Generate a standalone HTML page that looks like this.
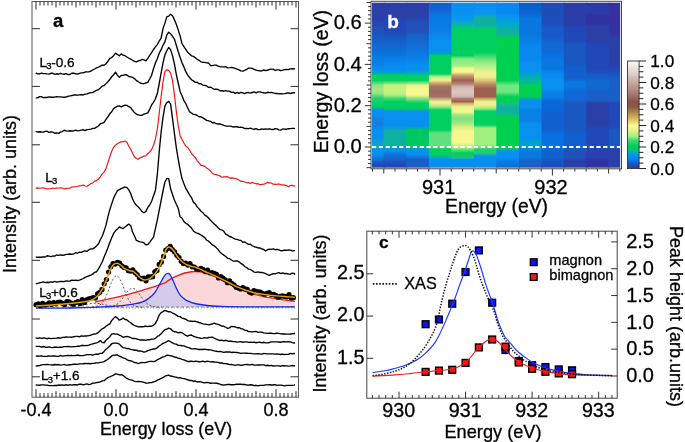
<!DOCTYPE html>
<html><head><meta charset="utf-8"><style>
html,body{margin:0;padding:0;background:#fff;}
svg{display:block;will-change:transform;}
text{font-family:"Liberation Sans", sans-serif;stroke:#000;stroke-width:0.3px;}
.w{stroke:#fff;}
</style></head><body>
<svg width="685" height="442" viewBox="0 0 685 442" font-family='"Liberation Sans", sans-serif'>
<rect width="685" height="442" fill="#fff"/>
<path d="M95,307.2 L95,302 L97.2,301.4 L111.5,298.4 L131.8,293.3 L152.2,287.2 L164.4,283.2 L168.2,280.6 L176.3,276.2 L184.5,273 L194.7,271.5 L205,272.8 L215.2,276.9 L225.4,282 L237.7,288.1 L249.9,293.2 L262.2,296.3 L274.5,298.4 L286.7,300.4 L294.9,301.4 L294.9,307.2 Z" fill="#fbd7d9" stroke="none"/>
<path d="M131.8,307.2 L131.8,304.3 L144,301.3 L152.2,295.6 L156.5,290 L160.3,283 L162.5,279 L164.4,275.8 L166.4,273.8 L168.2,273.4 L170.2,274.8 L172.3,278.9 L174.3,283.5 L176.3,288.1 L178.4,292.3 L180.4,295.3 L183.5,298.3 L186.6,300.4 L194.7,303.5 L207,305.5 L221.3,306.3 L250,306.8 L294.9,306.9 L294.9,307.2 Z" fill="#cfc8ec" stroke="none" fill-opacity="0.85"/>
<path d="M92,307.1 L93,307.05 L94,306.96 L95,306.84 L96,306.65 L97,306.4 L98,306.04 L99,305.56 L100,304.92 L101,304.1 L102,303.05 L103,301.77 L104,300.22 L105,298.4 L106,296.32 L107,294.01 L108,291.51 L109,288.89 L110,286.24 L111,283.67 L112,281.29 L113,279.21 L114,277.54 L115,276.38 L116,275.78 L117,275.78 L118,276.38 L119,277.54 L120,279.21 L121,281.29 L122,283.67 L123,286.24 L124,288.89 L125,291.51 L126,294.01 L127,296.32 L128,298.4 L129,300.22 L130,301.77 L131,303.05 L132,304.1 L133,304.92 L134,305.56 L135,306.04 L136,306.4 L137,306.65 L138,306.84 L139,306.96 L140,307.05 L141,307.1 L142,307.14" fill="none" stroke="#333" stroke-width="0.8" stroke-dasharray="2,2"/>
<path d="M105,307.15 L106,307.12 L107,307.08 L108,307.03 L109,306.95 L110,306.84 L111,306.69 L112,306.49 L113,306.23 L114,305.89 L115,305.46 L116,304.94 L117,304.29 L118,303.52 L119,302.62 L120,301.59 L121,300.44 L122,299.17 L123,297.81 L124,296.4 L125,294.96 L126,293.54 L127,292.2 L128,290.98 L129,289.93 L130,289.11 L131,288.53 L132,288.24 L133,288.24 L134,288.53 L135,289.11 L136,289.93 L137,290.98 L138,292.2 L139,293.54 L140,294.96 L141,296.4 L142,297.81 L143,299.17 L144,300.44 L145,301.59 L146,302.62 L147,303.52 L148,304.29 L149,304.94 L150,305.46 L151,305.89 L152,306.23 L153,306.49 L154,306.69 L155,306.84 L156,306.95 L157,307.03 L158,307.08 L159,307.12 L160,307.15 L161,307.17 L162,307.18" fill="none" stroke="#333" stroke-width="0.8" stroke-dasharray="2,2"/>
<path d="M70,307.02 L71,306.98 L72,306.92 L73,306.84 L74,306.76 L75,306.66 L76,306.54 L77,306.41 L78,306.26 L79,306.09 L80,305.9 L81,305.7 L82,305.48 L83,305.25 L84,305.02 L85,304.77 L86,304.53 L87,304.3 L88,304.07 L89,303.86 L90,303.67 L91,303.51 L92,303.38 L93,303.28 L94,303.22 L95,303.2 L96,303.22 L97,303.28 L98,303.38 L99,303.51 L100,303.67 L101,303.86 L102,304.07 L103,304.3 L104,304.53 L105,304.77 L106,305.02 L107,305.25 L108,305.48 L109,305.7 L110,305.9 L111,306.09 L112,306.26 L113,306.41 L114,306.54 L115,306.66 L116,306.76 L117,306.84 L118,306.92 L119,306.98 L120,307.02 L121,307.06 L122,307.1 L123,307.12 L124,307.14 L125,307.16" fill="none" stroke="#333" stroke-width="0.8" stroke-dasharray="2,2"/>
<line x1="36" y1="308" x2="295" y2="308" stroke="#5a5" stroke-width="0.8" stroke-dasharray="1,2"/>
<line x1="36" y1="307" x2="295" y2="307" stroke="#666" stroke-width="0.7" stroke-dasharray="3,2"/>
<path d="M95,302C95.37,301.9 94.45,302 97.2,301.4C99.95,300.8 105.73,299.75 111.5,298.4C117.27,297.05 125.02,295.17 131.8,293.3C138.58,291.43 146.77,288.88 152.2,287.2C157.63,285.52 161.73,284.3 164.4,283.2C167.07,282.1 166.22,281.77 168.2,280.6C170.18,279.43 173.58,277.47 176.3,276.2C179.02,274.93 181.43,273.78 184.5,273C187.57,272.22 191.28,271.53 194.7,271.5C198.12,271.47 201.58,271.9 205,272.8C208.42,273.7 211.8,275.37 215.2,276.9C218.6,278.43 221.65,280.13 225.4,282C229.15,283.87 233.62,286.23 237.7,288.1C241.78,289.97 245.82,291.83 249.9,293.2C253.98,294.57 258.1,295.43 262.2,296.3C266.3,297.17 270.42,297.72 274.5,298.4C278.58,299.08 283.3,299.9 286.7,300.4C290.1,300.9 293.53,301.23 294.9,301.4" fill="none" stroke="#f01818" stroke-width="1.3"/>
<path d="M36,308.2C41.78,308.17 58.12,308.3 70.7,308C83.28,307.7 101.32,307.02 111.5,306.4C121.68,305.78 126.38,305.15 131.8,304.3C137.22,303.45 140.6,302.75 144,301.3C147.4,299.85 150.12,297.48 152.2,295.6C154.28,293.72 155.15,292.1 156.5,290C157.85,287.9 159.3,284.83 160.3,283C161.3,281.17 161.82,280.2 162.5,279C163.18,277.8 163.75,276.67 164.4,275.8C165.05,274.93 165.77,274.2 166.4,273.8C167.03,273.4 167.57,273.23 168.2,273.4C168.83,273.57 169.52,273.88 170.2,274.8C170.88,275.72 171.62,277.45 172.3,278.9C172.98,280.35 173.63,281.97 174.3,283.5C174.97,285.03 175.62,286.63 176.3,288.1C176.98,289.57 177.72,291.1 178.4,292.3C179.08,293.5 179.55,294.3 180.4,295.3C181.25,296.3 182.47,297.45 183.5,298.3C184.53,299.15 184.73,299.53 186.6,300.4C188.47,301.27 191.3,302.65 194.7,303.5C198.1,304.35 202.57,305.03 207,305.5C211.43,305.97 214.13,306.08 221.3,306.3C228.47,306.52 237.73,306.7 250,306.8C262.27,306.9 287.42,306.88 294.9,306.9" fill="none" stroke="#1428f0" stroke-width="1.3"/>
<g fill="#000"><circle cx="36" cy="304.73" r="2.6"/><circle cx="38.2" cy="303.95" r="2.6"/><circle cx="40.4" cy="305.72" r="2.6"/><circle cx="42.6" cy="303.39" r="2.6"/><circle cx="44.8" cy="305.02" r="2.6"/><circle cx="47" cy="304.25" r="2.6"/><circle cx="49.2" cy="302.92" r="2.6"/><circle cx="51.4" cy="304.46" r="2.6"/><circle cx="53.6" cy="302.49" r="2.6"/><circle cx="55.8" cy="303.82" r="2.6"/><circle cx="58" cy="302.27" r="2.6"/><circle cx="60.2" cy="302.17" r="2.6"/><circle cx="62.4" cy="303.23" r="2.6"/><circle cx="64.6" cy="304.54" r="2.6"/><circle cx="66.8" cy="301.65" r="2.6"/><circle cx="69" cy="301.81" r="2.6"/><circle cx="71.2" cy="303.14" r="2.6"/><circle cx="73.4" cy="304.14" r="2.6"/><circle cx="75.6" cy="302.51" r="2.6"/><circle cx="77.8" cy="301.61" r="2.6"/><circle cx="80" cy="303.6" r="2.6"/><circle cx="82.2" cy="299.72" r="2.6"/><circle cx="84.4" cy="302.38" r="2.6"/><circle cx="86.6" cy="299.78" r="2.6"/><circle cx="88.8" cy="298.8" r="2.6"/><circle cx="91" cy="298.27" r="2.6"/><circle cx="93.2" cy="297.56" r="2.6"/><circle cx="95.4" cy="298.01" r="2.6"/><circle cx="97.6" cy="293.83" r="2.6"/><circle cx="99.8" cy="292.29" r="2.6"/><circle cx="102" cy="289.45" r="2.6"/><circle cx="104.2" cy="283.75" r="2.6"/><circle cx="106.4" cy="279.48" r="2.6"/><circle cx="108.6" cy="272.03" r="2.6"/><circle cx="110.8" cy="266.77" r="2.6"/><circle cx="113" cy="263.71" r="2.6"/><circle cx="115.2" cy="264.04" r="2.6"/><circle cx="117.4" cy="262.43" r="2.6"/><circle cx="119.6" cy="263.16" r="2.6"/><circle cx="121.8" cy="265.81" r="2.6"/><circle cx="124" cy="267.29" r="2.6"/><circle cx="126.2" cy="267.93" r="2.6"/><circle cx="128.4" cy="270.67" r="2.6"/><circle cx="130.6" cy="271.07" r="2.6"/><circle cx="132.8" cy="269.93" r="2.6"/><circle cx="135" cy="272.58" r="2.6"/><circle cx="137.2" cy="274.6" r="2.6"/><circle cx="139.4" cy="277.74" r="2.6"/><circle cx="141.6" cy="278.83" r="2.6"/><circle cx="143.8" cy="278.19" r="2.6"/><circle cx="146" cy="280.82" r="2.6"/><circle cx="148.2" cy="276.94" r="2.6"/><circle cx="150.4" cy="276.88" r="2.6"/><circle cx="152.6" cy="276.7" r="2.6"/><circle cx="154.8" cy="271.77" r="2.6"/><circle cx="157" cy="270.42" r="2.6"/><circle cx="159.2" cy="264.4" r="2.6"/><circle cx="161.4" cy="262.09" r="2.6"/><circle cx="163.6" cy="256.45" r="2.6"/><circle cx="165.8" cy="250.14" r="2.6"/><circle cx="168" cy="248.52" r="2.6"/><circle cx="170.2" cy="246.47" r="2.6"/><circle cx="172.4" cy="249.64" r="2.6"/><circle cx="174.6" cy="251.95" r="2.6"/><circle cx="176.8" cy="255.28" r="2.6"/><circle cx="179" cy="257.52" r="2.6"/><circle cx="181.2" cy="261.31" r="2.6"/><circle cx="183.4" cy="263.61" r="2.6"/><circle cx="185.6" cy="263.08" r="2.6"/><circle cx="187.8" cy="265.06" r="2.6"/><circle cx="190" cy="263.61" r="2.6"/><circle cx="192.2" cy="266.63" r="2.6"/><circle cx="194.4" cy="267.02" r="2.6"/><circle cx="196.6" cy="268.92" r="2.6"/><circle cx="198.8" cy="269.25" r="2.6"/><circle cx="201" cy="268.23" r="2.6"/><circle cx="203.2" cy="269.63" r="2.6"/><circle cx="205.4" cy="271.71" r="2.6"/><circle cx="207.6" cy="270.18" r="2.6"/><circle cx="209.8" cy="272.77" r="2.6"/><circle cx="212" cy="272.58" r="2.6"/><circle cx="214.2" cy="273.38" r="2.6"/><circle cx="216.4" cy="274.23" r="2.6"/><circle cx="218.6" cy="278" r="2.6"/><circle cx="220.8" cy="276.65" r="2.6"/><circle cx="223" cy="278.19" r="2.6"/><circle cx="225.2" cy="279.84" r="2.6"/><circle cx="227.4" cy="282.76" r="2.6"/><circle cx="229.6" cy="280.86" r="2.6"/><circle cx="231.8" cy="283.36" r="2.6"/><circle cx="234" cy="284.84" r="2.6"/><circle cx="236.2" cy="287.21" r="2.6"/><circle cx="238.4" cy="287.98" r="2.6"/><circle cx="240.6" cy="288.99" r="2.6"/><circle cx="242.8" cy="287.61" r="2.6"/><circle cx="245" cy="288.97" r="2.6"/><circle cx="247.2" cy="289.47" r="2.6"/><circle cx="249.4" cy="292.11" r="2.6"/><circle cx="251.6" cy="293.03" r="2.6"/><circle cx="253.8" cy="290.6" r="2.6"/><circle cx="256" cy="291.34" r="2.6"/><circle cx="258.2" cy="291.89" r="2.6"/><circle cx="260.4" cy="292.22" r="2.6"/><circle cx="262.6" cy="293.5" r="2.6"/><circle cx="264.8" cy="294.22" r="2.6"/><circle cx="267" cy="293.28" r="2.6"/><circle cx="269.2" cy="292.56" r="2.6"/><circle cx="271.4" cy="294.39" r="2.6"/><circle cx="273.6" cy="294.46" r="2.6"/><circle cx="275.8" cy="295.47" r="2.6"/><circle cx="278" cy="297.14" r="2.6"/><circle cx="280.2" cy="296.31" r="2.6"/><circle cx="282.4" cy="295.82" r="2.6"/><circle cx="284.6" cy="296.38" r="2.6"/><circle cx="286.8" cy="296.78" r="2.6"/><circle cx="289" cy="294.57" r="2.6"/><circle cx="291.2" cy="297.95" r="2.6"/><circle cx="293.4" cy="297.65" r="2.6"/></g>
<path d="M36.1,306C38.08,305.88 43.93,305.58 48,305.3C52.07,305.02 55.02,304.8 60.5,304.3C65.98,303.8 75.8,302.97 80.9,302.3C86,301.63 88.38,301.32 91.1,300.3C93.82,299.28 95.33,298.07 97.2,296.2C99.07,294.33 100.77,291.82 102.3,289.1C103.83,286.38 105.05,283.13 106.4,279.9C107.75,276.67 109.22,272.25 110.4,269.7C111.58,267.15 112.37,265.68 113.5,264.6C114.63,263.52 116.02,263.13 117.2,263.2C118.38,263.27 119.35,264.08 120.6,265C121.85,265.92 123.17,267.75 124.7,268.7C126.23,269.65 128.27,270.18 129.8,270.7C131.33,271.22 132.55,270.95 133.9,271.8C135.25,272.65 136.38,274.5 137.9,275.8C139.42,277.1 141.47,278.97 143,279.6C144.53,280.23 145.57,280.07 147.1,279.6C148.63,279.13 150.5,278.28 152.2,276.8C153.9,275.32 155.8,273.07 157.3,270.7C158.8,268.33 160.05,265.32 161.2,262.6C162.35,259.88 163.3,256.75 164.2,254.4C165.1,252.05 165.77,249.73 166.6,248.5C167.43,247.27 168.08,246.72 169.2,247C170.32,247.28 171.9,248.57 173.3,250.2C174.7,251.83 176.07,254.83 177.6,256.8C179.13,258.77 180.67,260.55 182.5,262C184.33,263.45 186.22,264.55 188.6,265.5C190.98,266.45 194.07,266.7 196.8,267.7C199.53,268.7 202.28,270.3 205,271.5C207.72,272.7 210.38,273.67 213.1,274.9C215.82,276.13 218.57,277.55 221.3,278.9C224.03,280.25 226.77,281.63 229.5,283C232.23,284.37 234.98,285.9 237.7,287.1C240.42,288.3 242.73,289.18 245.8,290.2C248.87,291.22 252.68,292.45 256.1,293.2C259.52,293.95 262.9,294.25 266.3,294.7C269.7,295.15 273.1,295.57 276.5,295.9C279.9,296.23 283.63,296.47 286.7,296.7C289.77,296.93 293.53,297.2 294.9,297.3" fill="none" stroke="#eea000" stroke-width="1.45"/>
<path d="M35.7,72.82 L37.6,73.82 L39.5,73.78 L41.4,73.18 L43.3,73.56 L45.2,73.57 L47.1,73.9 L49,74.14 L50.9,73.28 L52.8,73.22 L54.7,74.29 L56.6,73.78 L58.5,74.23 L60.4,73.27 L62.3,73.86 L64.2,74.24 L66.1,73.62 L68,74.57 L69.9,74.46 L71.8,73.25 L73.7,73.16 L75.6,73.75 L77.5,74.18 L79.4,73.37 L81.3,72.91 L83.2,72.85 L85.1,72.02 L87,71.95 L88.9,71.88 L90.8,71.15 L92.7,70.01 L94.6,68.99 L96.5,67.86 L98.4,67.15 L100.3,66.17 L102.2,65.06 L104.1,65.24 L106,63.8 L107.9,61.28 L109.8,58.33 L111.7,57.59 L113.6,55.71 L115.5,53.13 L117.4,54.49 L119.3,55.79 L121.2,53.87 L123.1,55.2 L125,55.72 L126.9,56.99 L128.8,58.25 L130.7,59.16 L132.6,60.28 L134.5,61.41 L136.4,61.84 L138.3,60.9 L140.2,60.51 L142.1,59.45 L144,59.97 L145.9,60.95 L147.8,58.3 L149.7,55.39 L151.6,52.65 L153.5,49.52 L155.4,46.89 L157.3,44.64 L159.2,41.02 L161.1,38.21 L163,28.61 L164.9,23.1 L166.8,16.9 L168.7,16.13 L170.6,14.16 L172.5,15.71 L174.4,19.66 L176.3,24.18 L178.2,29.88 L180.1,35.91 L182,43.64 L183.9,46.52 L185.8,49.44 L187.7,52.3 L189.6,54.04 L191.5,55.86 L193.4,56.36 L195.3,57.69 L197.2,59.23 L199.1,60.32 L201,61.86 L202.9,62.36 L204.8,62.43 L206.7,62.85 L208.6,63.04 L210.5,65.49 L212.4,65.57 L214.3,65.2 L216.2,65.07 L218.1,66.13 L220,66.72 L221.9,66.95 L223.8,66.94 L225.7,66.63 L227.6,67.85 L229.5,67.62 L231.4,67.3 L233.3,67.86 L235.2,68.43 L237.1,69.07 L239,69.87 L240.9,70.93 L242.8,71.12 L244.7,70.38 L246.6,69.46 L248.5,68.18 L250.4,68.08 L252.3,68.44 L254.2,69.4 L256.1,70.19 L258,70.54 L259.9,70.96 L261.8,70.88 L263.7,70.01 L265.6,70.64 L267.5,70.28 L269.4,69.38 L271.3,69.15 L273.2,69.15 L275.1,70.3 L277,69.83 L278.9,69.84 L280.8,70.7 L282.7,70.21 L284.6,69.57 L286.5,69.41 L288.4,69.61 L290.3,68.86 L292.2,68.72 L294.1,69.01 L295,68.54" fill="none" stroke="#000" stroke-width="1.35" stroke-linejoin="round"/>
<path d="M35.7,97.89 L37.6,97.86 L39.5,96.68 L41.4,96.69 L43.3,97.64 L45.2,97.49 L47.1,97.38 L49,96.89 L50.9,97.25 L52.8,97.23 L54.7,97.17 L56.6,96.6 L58.5,96.93 L60.4,96.82 L62.3,97.06 L64.2,97.22 L66.1,96.97 L68,96.26 L69.9,95.94 L71.8,95.52 L73.7,95.03 L75.6,94.83 L77.5,95.2 L79.4,94.82 L81.3,94.63 L83.2,94.98 L85.1,94.19 L87,93.92 L88.9,93.18 L90.8,92.59 L92.7,92.67 L94.6,91.37 L96.5,90.45 L98.4,89.71 L100.3,88.03 L102.2,86.12 L104.1,85.5 L106,83.63 L107.9,81.8 L109.8,79.5 L111.7,76.75 L113.6,74.73 L115.5,72.21 L117.4,75.22 L119.3,77.39 L121.2,75.51 L123.1,75.34 L125,74.72 L126.9,74.98 L128.8,76.51 L130.7,76.95 L132.6,77.45 L134.5,78.57 L136.4,80.66 L138.3,81.71 L140.2,83.01 L142.1,83.64 L144,83.6 L145.9,82.79 L147.8,82.3 L149.7,78.97 L151.6,75.2 L153.5,68.68 L155.4,63.01 L157.3,58.73 L159.2,53.28 L161.1,49.67 L163,45.32 L164.9,41.93 L166.8,34.95 L168.7,32.26 L170.6,33.82 L172.5,36.41 L174.4,39.03 L176.3,45.2 L178.2,51.49 L180.1,57.23 L182,62.74 L183.9,66.9 L185.8,71.69 L187.7,75.05 L189.6,77.51 L191.5,79.75 L193.4,80.89 L195.3,82.37 L197.2,82.25 L199.1,83.78 L201,83.7 L202.9,85.2 L204.8,85.35 L206.7,85.93 L208.6,87.42 L210.5,87.07 L212.4,88.26 L214.3,89.35 L216.2,89.12 L218.1,89.5 L220,90.79 L221.9,90.61 L223.8,91.24 L225.7,90.54 L227.6,91.17 L229.5,91.18 L231.4,92.35 L233.3,92.1 L235.2,93.44 L237.1,92.3 L239,93.28 L240.9,92.43 L242.8,92.8 L244.7,93.59 L246.6,92.64 L248.5,92.53 L250.4,93.04 L252.3,92.49 L254.2,91.9 L256.1,92.98 L258,91.91 L259.9,91.84 L261.8,92.33 L263.7,92.76 L265.6,93.01 L267.5,92.28 L269.4,92.66 L271.3,92.34 L273.2,92.97 L275.1,93.47 L277,93.52 L278.9,93.81 L280.8,93.71 L282.7,93.85 L284.6,93.62 L286.5,93.29 L288.4,92.94 L290.3,93.48 L292.2,93 L294.1,92.7 L295,93.13" fill="none" stroke="#000" stroke-width="1.35" stroke-linejoin="round"/>
<path d="M35.7,131.56 L37.6,131.96 L39.5,131.73 L41.4,132.04 L43.3,132.06 L45.2,131.34 L47.1,131.27 L49,132.44 L50.9,131.89 L52.8,132.06 L54.7,133.26 L56.6,132.78 L58.5,133.36 L60.4,132.11 L62.3,131.54 L64.2,130.25 L66.1,130.88 L68,131.18 L69.9,130.73 L71.8,131.01 L73.7,130.92 L75.6,130.12 L77.5,130.93 L79.4,130.63 L81.3,130.17 L83.2,129.74 L85.1,130.56 L87,129.55 L88.9,129.37 L90.8,129.07 L92.7,128.44 L94.6,128.3 L96.5,127.21 L98.4,126.03 L100.3,123.71 L102.2,123.08 L104.1,122.39 L106,119.36 L107.9,116.77 L109.8,113.77 L111.7,111.73 L113.6,108.65 L115.5,107.36 L117.4,106.18 L119.3,105.97 L121.2,106.8 L123.1,105.89 L125,105.22 L126.9,105.36 L128.8,106.73 L130.7,107.61 L132.6,110.3 L134.5,112.57 L136.4,114.15 L138.3,114.89 L140.2,115.38 L142.1,115.29 L144,114.02 L145.9,113.56 L147.8,112.9 L149.7,109.33 L151.6,104.92 L153.5,102.38 L155.4,98.77 L157.3,93.54 L159.2,83.75 L161.1,73.15 L163,62.84 L164.9,54.97 L166.8,50.63 L168.7,47.51 L170.6,49.64 L172.5,55.64 L174.4,63.89 L176.3,74.3 L178.2,83.01 L180.1,91.42 L182,95.83 L183.9,100.55 L185.8,103.55 L187.7,107.9 L189.6,111.82 L191.5,113.03 L193.4,114.34 L195.3,114.59 L197.2,115.48 L199.1,116.78 L201,116.75 L202.9,117.93 L204.8,119.18 L206.7,120.41 L208.6,120.79 L210.5,121.31 L212.4,122.79 L214.3,122.46 L216.2,123.7 L218.1,124.02 L220,123.96 L221.9,124.68 L223.8,125.37 L225.7,125.96 L227.6,126.06 L229.5,126.18 L231.4,126.43 L233.3,127.02 L235.2,126.62 L237.1,126.75 L239,127.43 L240.9,127.11 L242.8,127.49 L244.7,128.68 L246.6,128.38 L248.5,128.66 L250.4,128.15 L252.3,128.86 L254.2,129.26 L256.1,128.71 L258,129.67 L259.9,129.69 L261.8,128.8 L263.7,129.39 L265.6,129.03 L267.5,129.16 L269.4,128.8 L271.3,129.38 L273.2,129.54 L275.1,128.72 L277,128.89 L278.9,129.81 L280.8,130.09 L282.7,129.03 L284.6,129.17 L286.5,129.21 L288.4,128.73 L290.3,128.65 L292.2,128.45 L294.1,128.39 L295,128.62" fill="none" stroke="#000" stroke-width="1.35" stroke-linejoin="round"/>
<path d="M35.7,188.06 L37.6,187.88 L39.5,188.26 L41.4,187.95 L43.3,187.84 L45.2,188.27 L47.1,188.94 L49,188.79 L50.9,188.74 L52.8,188.04 L54.7,188.45 L56.6,188.11 L58.5,187.97 L60.4,187.89 L62.3,188.03 L64.2,188.92 L66.1,188.56 L68,188.3 L69.9,188.07 L71.8,187.05 L73.7,186.85 L75.6,186.71 L77.5,186.29 L79.4,185.9 L81.3,185.58 L83.2,184.95 L85.1,186.02 L87,186.22 L88.9,185.04 L90.8,183.65 L92.7,183.07 L94.6,181.18 L96.5,180.68 L98.4,179 L100.3,176.88 L102.2,173.93 L104.1,172.09 L106,168.63 L107.9,162.72 L109.8,156.75 L111.7,151.22 L113.6,147.36 L115.5,145.09 L117.4,143.65 L119.3,142.54 L121.2,141.92 L123.1,141.68 L125,141.05 L126.9,142.34 L128.8,146.19 L130.7,149.31 L132.6,153.35 L134.5,157.06 L136.4,158.45 L138.3,159.26 L140.2,157.6 L142.1,157.14 L144,156.1 L145.9,155.89 L147.8,153.71 L149.7,151.91 L151.6,149.62 L153.5,145.27 L155.4,139.23 L157.3,129.26 L159.2,113.56 L161.1,96.83 L163,81.85 L164.9,71.65 L166.8,69.64 L168.7,70.5 L170.6,73.05 L172.5,80.32 L174.4,94.64 L176.3,111.19 L178.2,125.7 L180.1,135.71 L182,139.55 L183.9,143.02 L185.8,146.29 L187.7,147.47 L189.6,150.22 L191.5,153.47 L193.4,155.58 L195.3,157.6 L197.2,160.81 L199.1,162.96 L201,165.36 L202.9,165.6 L204.8,166.4 L206.7,168.11 L208.6,169.15 L210.5,171.01 L212.4,173.41 L214.3,174.23 L216.2,174.6 L218.1,175.2 L220,175.91 L221.9,177.27 L223.8,176.92 L225.7,176.83 L227.6,176.58 L229.5,178.08 L231.4,177.9 L233.3,178.18 L235.2,178.54 L237.1,179.16 L239,180.03 L240.9,181.41 L242.8,181.44 L244.7,182.01 L246.6,182.79 L248.5,182.47 L250.4,183.45 L252.3,182.36 L254.2,183.19 L256.1,183.81 L258,183.64 L259.9,184.69 L261.8,184.33 L263.7,184.11 L265.6,183.58 L267.5,182.35 L269.4,182.94 L271.3,183.01 L273.2,184.15 L275.1,184.38 L277,184.25 L278.9,183.94 L280.8,184.57 L282.7,184.89 L284.6,185.18 L286.5,185.55 L288.4,186.66 L290.3,185.52 L292.2,185.2 L294.1,186.15 L295,185.58" fill="none" stroke="#f01010" stroke-width="1.15" stroke-linejoin="round"/>
<path d="M35.7,257.16 L37.6,257.21 L39.5,257.17 L41.4,257.25 L43.3,256.88 L45.2,257.01 L47.1,255.74 L49,256.17 L50.9,256.6 L52.8,256.03 L54.7,256.17 L56.6,254.96 L58.5,255.3 L60.4,254.93 L62.3,255.23 L64.2,255.19 L66.1,254.37 L68,254.28 L69.9,253.98 L71.8,254.43 L73.7,253.86 L75.6,252.71 L77.5,253.22 L79.4,252.05 L81.3,252.35 L83.2,251.4 L85.1,250.79 L87,251.3 L88.9,249.82 L90.8,248.95 L92.7,248.84 L94.6,247.65 L96.5,245.89 L98.4,243.91 L100.3,239.77 L102.2,236.22 L104.1,231.09 L106,225.14 L107.9,216.87 L109.8,209.68 L111.7,203.91 L113.6,198.1 L115.5,194.32 L117.4,190.71 L119.3,189.71 L121.2,188.64 L123.1,187.77 L125,186.93 L126.9,187.59 L128.8,189.9 L130.7,193.47 L132.6,198.95 L134.5,202.8 L136.4,205.27 L138.3,206.96 L140.2,209.08 L142.1,211.6 L144,212.78 L145.9,211.34 L147.8,207.45 L149.7,205.02 L151.6,201.35 L153.5,195.81 L155.4,190.5 L157.3,174.8 L159.2,152 L161.1,132.26 L163,117.34 L164.9,106.17 L166.8,102.55 L168.7,101.44 L170.6,103.93 L172.5,118.44 L174.4,133.27 L176.3,147.7 L178.2,159.03 L180.1,169.54 L182,178.55 L183.9,183.62 L185.8,188.43 L187.7,191.56 L189.6,194.87 L191.5,197.6 L193.4,202.15 L195.3,203.83 L197.2,206.88 L199.1,208.87 L201,211.22 L202.9,212.68 L204.8,215.05 L206.7,216.17 L208.6,218.05 L210.5,220.26 L212.4,222.29 L214.3,224.08 L216.2,225.61 L218.1,227.75 L220,229.58 L221.9,229.93 L223.8,231.32 L225.7,234.13 L227.6,235.13 L229.5,236.52 L231.4,237.01 L233.3,238.18 L235.2,239.19 L237.1,239.42 L239,240.1 L240.9,240.38 L242.8,242.25 L244.7,241.86 L246.6,243.22 L248.5,244.42 L250.4,244.25 L252.3,245.75 L254.2,246.75 L256.1,247.05 L258,247.97 L259.9,247.83 L261.8,249.01 L263.7,249.39 L265.6,251.05 L267.5,249.69 L269.4,249.25 L271.3,249.32 L273.2,248.96 L275.1,249.61 L277,249.42 L278.9,249.95 L280.8,250.75 L282.7,250.52 L284.6,250.21 L286.5,250.29 L288.4,249.88 L290.3,250.11 L292.2,250.84 L294.1,250.73 L295,250.27" fill="none" stroke="#000" stroke-width="1.35" stroke-linejoin="round"/>
<path d="M35.7,283.58 L37.6,283.47 L39.5,282.87 L41.4,282.43 L43.3,281.94 L45.2,282.65 L47.1,282.24 L49,282.48 L50.9,281.85 L52.8,282.24 L54.7,281.47 L56.6,282.03 L58.5,281.86 L60.4,281.38 L62.3,281.48 L64.2,281.6 L66.1,280.9 L68,281.07 L69.9,281.09 L71.8,280.07 L73.7,280.46 L75.6,280.07 L77.5,280.49 L79.4,280.04 L81.3,279.32 L83.2,278.5 L85.1,277.37 L87,276.59 L88.9,275.82 L90.8,275.06 L92.7,274.2 L94.6,272.33 L96.5,271.76 L98.4,268.83 L100.3,265.51 L102.2,262 L104.1,256.93 L106,252.53 L107.9,247.73 L109.8,242.47 L111.7,237.83 L113.6,233.43 L115.5,230.83 L117.4,229.08 L119.3,226.96 L121.2,227.85 L123.1,228.61 L125,226.95 L126.9,225.42 L128.8,224.08 L130.7,225.67 L132.6,232.03 L134.5,235.97 L136.4,240.47 L138.3,241.24 L140.2,241.81 L142.1,242.18 L144,242.93 L145.9,244.92 L147.8,244.48 L149.7,242.36 L151.6,239.57 L153.5,237.16 L155.4,228.57 L157.3,220.08 L159.2,210.47 L161.1,200.67 L163,191 L164.9,182.19 L166.8,178.52 L168.7,178.69 L170.6,188.81 L172.5,194.47 L174.4,200.03 L176.3,204.27 L178.2,208.21 L180.1,216.83 L182,218.22 L183.9,221.53 L185.8,223.22 L187.7,224.32 L189.6,226.21 L191.5,228.04 L193.4,230.95 L195.3,232.37 L197.2,233.25 L199.1,233.81 L201,235.02 L202.9,236.35 L204.8,237.65 L206.7,240.23 L208.6,241.18 L210.5,243.03 L212.4,244.98 L214.3,245.88 L216.2,247.61 L218.1,249.66 L220,252.19 L221.9,253.81 L223.8,255.12 L225.7,256.54 L227.6,258.33 L229.5,258.63 L231.4,260 L233.3,261.05 L235.2,261.01 L237.1,260.87 L239,261.79 L240.9,263.41 L242.8,264.59 L244.7,266.52 L246.6,267.54 L248.5,269.13 L250.4,269.44 L252.3,270.82 L254.2,272.16 L256.1,272.39 L258,271.93 L259.9,272.48 L261.8,272.37 L263.7,272.8 L265.6,273.53 L267.5,274.54 L269.4,275.34 L271.3,274.49 L273.2,273.74 L275.1,273.95 L277,273.06 L278.9,272.65 L280.8,273.63 L282.7,272.85 L284.6,273.72 L286.5,273.34 L288.4,274.18 L290.3,274.15 L292.2,273.21 L294.1,273.46 L295,274.48" fill="none" stroke="#000" stroke-width="1.35" stroke-linejoin="round"/>
<path d="M35.7,337.78 L37.6,338.43 L39.5,337.81 L41.4,338.33 L43.3,337.89 L45.2,338.08 L47.1,338.74 L49,338.16 L50.9,338.56 L52.8,338.45 L54.7,338.3 L56.6,338.18 L58.5,337.78 L60.4,338.14 L62.3,337.4 L64.2,337.36 L66.1,337.04 L68,337.09 L69.9,337.05 L71.8,337.29 L73.7,336.72 L75.6,336.36 L77.5,336.34 L79.4,336.78 L81.3,335.9 L83.2,336.21 L85.1,335.87 L87,335.96 L88.9,335.54 L90.8,335.22 L92.7,334.46 L94.6,333.97 L96.5,333.57 L98.4,332.45 L100.3,330.5 L102.2,328.85 L104.1,327.96 L106,326.31 L107.9,324.94 L109.8,323.84 L111.7,320.64 L113.6,318.38 L115.5,316.6 L117.4,318.13 L119.3,320.18 L121.2,319.48 L123.1,317.97 L125,319.48 L126.9,319.96 L128.8,321.44 L130.7,322.77 L132.6,324.37 L134.5,325.52 L136.4,326.17 L138.3,326.86 L140.2,326.62 L142.1,326.72 L144,326.5 L145.9,326.05 L147.8,326.61 L149.7,326.19 L151.6,326.24 L153.5,325.28 L155.4,323.4 L157.3,319.83 L159.2,315.06 L161.1,312.62 L163,311.6 L164.9,310.41 L166.8,311.01 L168.7,311.79 L170.6,311.95 L172.5,313.02 L174.4,313.78 L176.3,315.13 L178.2,316.33 L180.1,316.66 L182,318.06 L183.9,318.64 L185.8,319.26 L187.7,320.64 L189.6,321.09 L191.5,321.24 L193.4,321.45 L195.3,321.29 L197.2,321.83 L199.1,322.49 L201,323.1 L202.9,323.8 L204.8,324.05 L206.7,324.38 L208.6,324.87 L210.5,324.41 L212.4,324 L214.3,323.14 L216.2,323.9 L218.1,324.35 L220,325.21 L221.9,326.13 L223.8,326.28 L225.7,327.25 L227.6,328.34 L229.5,327.85 L231.4,326.32 L233.3,326.6 L235.2,326.78 L237.1,327.75 L239,327.47 L240.9,328.65 L242.8,328.96 L244.7,330.31 L246.6,330.44 L248.5,331.63 L250.4,331.57 L252.3,331.86 L254.2,331.63 L256.1,331.41 L258,332.3 L259.9,332.18 L261.8,332.2 L263.7,332.92 L265.6,333.13 L267.5,333.41 L269.4,333.22 L271.3,333.2 L273.2,333.56 L275.1,333.46 L277,333.2 L278.9,333.45 L280.8,333.82 L282.7,333.98 L284.6,333.95 L286.5,334.06 L288.4,334.2 L290.3,334.04 L292.2,333.71 L294.1,333.6 L295,333.19" fill="none" stroke="#000" stroke-width="1.35" stroke-linejoin="round"/>
<path d="M35.7,346.37 L37.6,346.42 L39.5,346.36 L41.4,347.06 L43.3,346.5 L45.2,347.02 L47.1,347.46 L49,346.93 L50.9,347.43 L52.8,347.58 L54.7,347.03 L56.6,347.21 L58.5,347.38 L60.4,347.08 L62.3,347.21 L64.2,346.66 L66.1,346.63 L68,346.44 L69.9,346.66 L71.8,346.9 L73.7,346.55 L75.6,346.58 L77.5,346.1 L79.4,346.23 L81.3,345.54 L83.2,345.53 L85.1,345.67 L87,345.54 L88.9,345.11 L90.8,344.31 L92.7,343.93 L94.6,343.35 L96.5,342.88 L98.4,342.1 L100.3,340.59 L102.2,342.43 L104.1,342.72 L106,340.2 L107.9,338.6 L109.8,336.6 L111.7,334.12 L113.6,333.56 L115.5,334.17 L117.4,334.08 L119.3,335.14 L121.2,335.96 L123.1,337.25 L125,336.81 L126.9,336.33 L128.8,336.82 L130.7,337.52 L132.6,338.53 L134.5,338.42 L136.4,338.78 L138.3,339.42 L140.2,340.02 L142.1,339.81 L144,339.99 L145.9,340.38 L147.8,339.69 L149.7,339.74 L151.6,339.08 L153.5,339.09 L155.4,338.4 L157.3,336.41 L159.2,335.54 L161.1,333.86 L163,331.56 L164.9,329.72 L166.8,329.05 L168.7,328.05 L170.6,328.83 L172.5,330.79 L174.4,331.75 L176.3,331.94 L178.2,332.89 L180.1,332.43 L182,332.69 L183.9,334.07 L185.8,335.44 L187.7,336.22 L189.6,335.21 L191.5,335.02 L193.4,336.24 L195.3,336.83 L197.2,337.53 L199.1,337.92 L201,338.39 L202.9,338.06 L204.8,337.61 L206.7,338.08 L208.6,337.52 L210.5,337.43 L212.4,337.07 L214.3,338.26 L216.2,339.16 L218.1,339.97 L220,340.49 L221.9,340.15 L223.8,340.78 L225.7,340.26 L227.6,340.99 L229.5,341.26 L231.4,341.26 L233.3,341.69 L235.2,341.57 L237.1,342.09 L239,341.84 L240.9,341.68 L242.8,342.27 L244.7,341.82 L246.6,341.87 L248.5,342.36 L250.4,342.07 L252.3,342.41 L254.2,342.11 L256.1,342.75 L258,342.31 L259.9,342.14 L261.8,342.88 L263.7,342.24 L265.6,342.86 L267.5,342.89 L269.4,342.51 L271.3,341.93 L273.2,341.87 L275.1,341.88 L277,341.93 L278.9,342.01 L280.8,342.27 L282.7,341.78 L284.6,341.61 L286.5,341.95 L288.4,341.64 L290.3,341.91 L292.2,342.59 L294.1,343.01 L295,342.65" fill="none" stroke="#000" stroke-width="1.35" stroke-linejoin="round"/>
<path d="M35.7,356.16 L37.6,356.04 L39.5,356.16 L41.4,355.86 L43.3,356.35 L45.2,356.36 L47.1,356.22 L49,355.83 L50.9,356.12 L52.8,355.96 L54.7,355.83 L56.6,356.34 L58.5,356.31 L60.4,355.49 L62.3,356.09 L64.2,355.82 L66.1,355.59 L68,355.45 L69.9,355.7 L71.8,355.47 L73.7,355.6 L75.6,355.52 L77.5,355.03 L79.4,355.48 L81.3,355.58 L83.2,355.51 L85.1,355.16 L87,354.64 L88.9,354.55 L90.8,354.59 L92.7,355.17 L94.6,354.41 L96.5,354.13 L98.4,354.22 L100.3,353.42 L102.2,353.27 L104.1,351.41 L106,349.17 L107.9,347.67 L109.8,345.98 L111.7,343.73 L113.6,343.17 L115.5,343.1 L117.4,343.25 L119.3,344.07 L121.2,346.15 L123.1,347.68 L125,347.89 L126.9,348.58 L128.8,348.51 L130.7,349.35 L132.6,349.7 L134.5,350.25 L136.4,350.22 L138.3,351.12 L140.2,350.95 L142.1,351.38 L144,352.21 L145.9,351.71 L147.8,350.68 L149.7,350.05 L151.6,349.41 L153.5,349.03 L155.4,348.9 L157.3,347.62 L159.2,346.05 L161.1,344.79 L163,343.27 L164.9,342.6 L166.8,341.67 L168.7,340.58 L170.6,341.71 L172.5,342.99 L174.4,343.8 L176.3,344.19 L178.2,345.42 L180.1,345.45 L182,345.78 L183.9,345.92 L185.8,346.72 L187.7,347.45 L189.6,347.92 L191.5,348.9 L193.4,348.89 L195.3,348.69 L197.2,349.07 L199.1,349.52 L201,349.34 L202.9,349.52 L204.8,349.19 L206.7,349.64 L208.6,349.72 L210.5,349.93 L212.4,350.34 L214.3,350.87 L216.2,351.23 L218.1,351.59 L220,351.46 L221.9,351.8 L223.8,352.35 L225.7,352.04 L227.6,351.86 L229.5,351.96 L231.4,352.51 L233.3,352.22 L235.2,352.36 L237.1,352.47 L239,352.84 L240.9,353.37 L242.8,353.06 L244.7,353.14 L246.6,353.21 L248.5,353.35 L250.4,353.39 L252.3,353.69 L254.2,353.92 L256.1,353.84 L258,353.7 L259.9,353.92 L261.8,354.13 L263.7,353.52 L265.6,353.59 L267.5,353.9 L269.4,353.95 L271.3,353.91 L273.2,353.9 L275.1,354.16 L277,353.95 L278.9,354.29 L280.8,354.48 L282.7,354.13 L284.6,354.54 L286.5,354.41 L288.4,354.32 L290.3,353.41 L292.2,353.87 L294.1,353.52 L295,353.57" fill="none" stroke="#000" stroke-width="1.35" stroke-linejoin="round"/>
<path d="M35.7,366.06 L37.6,365.76 L39.5,365.67 L41.4,364.92 L43.3,364.57 L45.2,364.62 L47.1,364.35 L49,364.67 L50.9,364.82 L52.8,365.01 L54.7,364.5 L56.6,364.73 L58.5,364.54 L60.4,365.07 L62.3,364.94 L64.2,364.38 L66.1,365.09 L68,365.03 L69.9,364.74 L71.8,364.67 L73.7,364.26 L75.6,364.09 L77.5,364.37 L79.4,363.87 L81.3,363.85 L83.2,363.76 L85.1,363.47 L87,363.69 L88.9,363.54 L90.8,363.74 L92.7,363.36 L94.6,363.26 L96.5,362.91 L98.4,362.81 L100.3,362.42 L102.2,362.05 L104.1,361.58 L106,360.45 L107.9,359.19 L109.8,357.68 L111.7,355.93 L113.6,355.09 L115.5,354.97 L117.4,354.8 L119.3,356.25 L121.2,356.77 L123.1,357.8 L125,358.31 L126.9,359.72 L128.8,360.58 L130.7,360.78 L132.6,361.48 L134.5,362.57 L136.4,362.75 L138.3,363.68 L140.2,362.95 L142.1,362.43 L144,362.61 L145.9,362.46 L147.8,361.82 L149.7,361.44 L151.6,361.41 L153.5,361.68 L155.4,361.21 L157.3,359.74 L159.2,358.9 L161.1,357.83 L163,356.87 L164.9,356.56 L166.8,355.17 L168.7,355.33 L170.6,355.79 L172.5,356.12 L174.4,357.14 L176.3,357.28 L178.2,358.3 L180.1,358.49 L182,359.38 L183.9,359.86 L185.8,360.54 L187.7,361.51 L189.6,361.46 L191.5,361.15 L193.4,361.69 L195.3,361.24 L197.2,361.42 L199.1,361.78 L201,361.61 L202.9,361.18 L204.8,361.89 L206.7,361.27 L208.6,361.31 L210.5,361.86 L212.4,361.76 L214.3,362 L216.2,362.08 L218.1,362.35 L220,363.01 L221.9,363 L223.8,363.55 L225.7,363.63 L227.6,363.96 L229.5,364.63 L231.4,364.52 L233.3,364.85 L235.2,365.35 L237.1,364.9 L239,364.78 L240.9,365.28 L242.8,365.11 L244.7,364.56 L246.6,364.42 L248.5,364.76 L250.4,364.88 L252.3,364.39 L254.2,365.09 L256.1,365.13 L258,365.01 L259.9,364.96 L261.8,364.81 L263.7,364.85 L265.6,365.7 L267.5,365.23 L269.4,365.71 L271.3,365.46 L273.2,366.02 L275.1,365.95 L277,365.81 L278.9,365.82 L280.8,366.23 L282.7,365.64 L284.6,365.71 L286.5,365.92 L288.4,366.09 L290.3,365.84 L292.2,365.51 L294.1,365.96 L295,365.36" fill="none" stroke="#000" stroke-width="1.35" stroke-linejoin="round"/>
<path d="M35.7,384.98 L37.6,385.18 L39.5,385.25 L41.4,384.88 L43.3,384.83 L45.2,385.18 L47.1,385.16 L49,385.64 L50.9,385.6 L52.8,385.57 L54.7,385.48 L56.6,385.51 L58.5,385.03 L60.4,385.21 L62.3,384.93 L64.2,385.47 L66.1,384.73 L68,385.28 L69.9,384.62 L71.8,385.05 L73.7,384.72 L75.6,384.71 L77.5,384.97 L79.4,384.23 L81.3,384.18 L83.2,384.78 L85.1,384.37 L87,383.95 L88.9,384.57 L90.8,384.21 L92.7,383.2 L94.6,383.12 L96.5,382.55 L98.4,382.28 L100.3,381.89 L102.2,380.88 L104.1,380.66 L106,378.96 L107.9,377.62 L109.8,376.96 L111.7,376.01 L113.6,375.06 L115.5,373.92 L117.4,374.1 L119.3,374.86 L121.2,374.62 L123.1,375.41 L125,377.03 L126.9,378.48 L128.8,379.38 L130.7,379.8 L132.6,380.48 L134.5,381.41 L136.4,381.65 L138.3,381.34 L140.2,381.58 L142.1,381.87 L144,382.38 L145.9,383.01 L147.8,383.16 L149.7,382.58 L151.6,382.68 L153.5,381.83 L155.4,381.32 L157.3,380.13 L159.2,379.34 L161.1,378.36 L163,377.71 L164.9,376.21 L166.8,375.6 L168.7,375.16 L170.6,376.19 L172.5,376.27 L174.4,376.9 L176.3,377.26 L178.2,377.8 L180.1,377.64 L182,378.41 L183.9,378.66 L185.8,379.17 L187.7,379.74 L189.6,380.5 L191.5,380.49 L193.4,381.25 L195.3,381 L197.2,381.9 L199.1,381.7 L201,381.82 L202.9,382.52 L204.8,382.9 L206.7,382.34 L208.6,382.71 L210.5,383.26 L212.4,383.08 L214.3,383.19 L216.2,383.25 L218.1,383.53 L220,384.24 L221.9,384.79 L223.8,385.05 L225.7,384.77 L227.6,384.32 L229.5,384.48 L231.4,384.78 L233.3,384.75 L235.2,384.52 L237.1,384.12 L239,384.29 L240.9,384.2 L242.8,384.47 L244.7,384.34 L246.6,385.04 L248.5,385.15 L250.4,384.72 L252.3,384.98 L254.2,385.6 L256.1,385.28 L258,385.79 L259.9,385.37 L261.8,385.43 L263.7,385.35 L265.6,384.87 L267.5,384.85 L269.4,384.74 L271.3,385 L273.2,385 L275.1,384.67 L277,385.39 L278.9,385.14 L280.8,385.11 L282.7,385.39 L284.6,385.83 L286.5,385.37 L288.4,385.31 L290.3,385.43 L292.2,385.34 L294.1,385.06 L295,384.73" fill="none" stroke="#000" stroke-width="1.35" stroke-linejoin="round"/>
<rect x="32" y="1.5" width="266.5" height="395.7" fill="none" stroke="#555" stroke-width="1"/>
<path d="M36,1.5v8M36,397.2v-8M40,1.5v4M40,397.2v-4M44,1.5v4M44,397.2v-4M48,1.5v4M48,397.2v-4M52,1.5v4M52,397.2v-4M56,1.5v6M56,397.2v-6M60,1.5v4M60,397.2v-4M64,1.5v4M64,397.2v-4M68,1.5v4M68,397.2v-4M72,1.5v4M72,397.2v-4M76,1.5v6M76,397.2v-6M80,1.5v4M80,397.2v-4M84,1.5v4M84,397.2v-4M88,1.5v4M88,397.2v-4M92,1.5v4M92,397.2v-4M96,1.5v6M96,397.2v-6M100,1.5v4M100,397.2v-4M104,1.5v4M104,397.2v-4M108,1.5v4M108,397.2v-4M112,1.5v4M112,397.2v-4M116,1.5v8M116,397.2v-8M120,1.5v4M120,397.2v-4M124,1.5v4M124,397.2v-4M128,1.5v4M128,397.2v-4M132,1.5v4M132,397.2v-4M136,1.5v6M136,397.2v-6M140,1.5v4M140,397.2v-4M144,1.5v4M144,397.2v-4M148,1.5v4M148,397.2v-4M152,1.5v4M152,397.2v-4M156,1.5v6M156,397.2v-6M160,1.5v4M160,397.2v-4M164,1.5v4M164,397.2v-4M168,1.5v4M168,397.2v-4M172,1.5v4M172,397.2v-4M176,1.5v6M176,397.2v-6M180,1.5v4M180,397.2v-4M184,1.5v4M184,397.2v-4M188,1.5v4M188,397.2v-4M192,1.5v4M192,397.2v-4M196,1.5v8M196,397.2v-8M200,1.5v4M200,397.2v-4M204,1.5v4M204,397.2v-4M208,1.5v4M208,397.2v-4M212,1.5v4M212,397.2v-4M216,1.5v6M216,397.2v-6M220,1.5v4M220,397.2v-4M224,1.5v4M224,397.2v-4M228,1.5v4M228,397.2v-4M232,1.5v4M232,397.2v-4M236,1.5v6M236,397.2v-6M240,1.5v4M240,397.2v-4M244,1.5v4M244,397.2v-4M248,1.5v4M248,397.2v-4M252,1.5v4M252,397.2v-4M256,1.5v6M256,397.2v-6M260,1.5v4M260,397.2v-4M264,1.5v4M264,397.2v-4M268,1.5v4M268,397.2v-4M272,1.5v4M272,397.2v-4M276,1.5v8M276,397.2v-8M280,1.5v4M280,397.2v-4M284,1.5v4M284,397.2v-4M288,1.5v4M288,397.2v-4M292,1.5v4M292,397.2v-4M296,1.5v6M296,397.2v-6M32,28.7h8M298.5,28.7h-8M32,86.4h8M298.5,86.4h-8M32,144.8h8M298.5,144.8h-8M32,202.3h8M298.5,202.3h-8M32,260.3h8M298.5,260.3h-8M32,319h8M298.5,319h-8M32,376.8h8M298.5,376.8h-8" stroke="#2a2a2a" stroke-width="1" fill="none"/>
<text x="36" y="416.4" font-size="18" text-anchor="middle" font-weight="normal" fill="#000" >-0.4</text>
<text x="116" y="416.4" font-size="18" text-anchor="middle" font-weight="normal" fill="#000" >0.0</text>
<text x="196" y="416.4" font-size="18" text-anchor="middle" font-weight="normal" fill="#000" >0.4</text>
<text x="276" y="416.4" font-size="18" text-anchor="middle" font-weight="normal" fill="#000" >0.8</text>
<text x="166" y="434.5" font-size="17.9" text-anchor="middle" font-weight="normal" fill="#000" >Energy loss (eV)</text>
<text transform="translate(15.5,194) rotate(-90)" font-size="18" text-anchor="middle">Intensity (arb. units)</text>
<text x="53" y="27" font-size="18.5" text-anchor="start" font-weight="bold" fill="#000" >a</text>
<text x="39.4" y="66.6" font-size="13.6" fill="#000">L<tspan font-size="9.5" dy="2.3" dx="-0.7">3</tspan><tspan dy="-2.3" dx="-0.4">-0.6</tspan></text>
<text x="45.2" y="181.6" font-size="13.6" fill="#000">L<tspan font-size="9.5" dy="2.3" dx="-0.7">3</tspan><tspan dy="-2.3" dx="-0.4"></tspan></text>
<text x="39.2" y="296.8" font-size="13.6" fill="#000">L<tspan font-size="9.5" dy="2.3" dx="-0.7">3</tspan><tspan dy="-2.3" dx="-0.4">+0.6</tspan></text>
<text x="41" y="380.3" font-size="13.6" fill="#000">L<tspan font-size="9.5" dy="2.3" dx="-0.7">3</tspan><tspan dy="-2.3" dx="-0.4">+1.6</tspan></text>
<defs><linearGradient id="hA" x1="0" y1="0" x2="0" y2="1"><stop offset="0" stop-color="#2a40a8"/><stop offset="0.1" stop-color="#2a40a8"/><stop offset="0.15" stop-color="#2050b8"/><stop offset="0.2" stop-color="#1858c0"/><stop offset="0.26" stop-color="#1068d0"/><stop offset="0.32" stop-color="#0878e0"/><stop offset="0.37" stop-color="#0880e8"/><stop offset="0.41" stop-color="#0890f0"/><stop offset="0.43" stop-color="#00b0a0"/><stop offset="0.44" stop-color="#00d060"/><stop offset="0.47" stop-color="#00d060"/><stop offset="0.5" stop-color="#90e480"/><stop offset="0.53" stop-color="#a8e880"/><stop offset="0.55" stop-color="#90e480"/><stop offset="0.58" stop-color="#20d070"/><stop offset="0.63" stop-color="#00d060"/><stop offset="0.65" stop-color="#0890f0"/><stop offset="0.68" stop-color="#0890f0"/><stop offset="0.7" stop-color="#1880e0"/><stop offset="0.74" stop-color="#1080e0"/><stop offset="0.77" stop-color="#0890f0"/><stop offset="0.82" stop-color="#0890f0"/><stop offset="0.85" stop-color="#10a0d0"/><stop offset="0.87" stop-color="#10a0c8"/><stop offset="0.9" stop-color="#0890f0"/><stop offset="0.92" stop-color="#0890f0"/><stop offset="0.95" stop-color="#1070d8"/><stop offset="0.98" stop-color="#2048b8"/><stop offset="1" stop-color="#2048b8"/></linearGradient><linearGradient id="hB" x1="0" y1="0" x2="0" y2="1"><stop offset="0" stop-color="#2a40a8"/><stop offset="0.08" stop-color="#2a40a8"/><stop offset="0.12" stop-color="#2048b8"/><stop offset="0.18" stop-color="#2048b8"/><stop offset="0.21" stop-color="#1858c0"/><stop offset="0.27" stop-color="#1068d0"/><stop offset="0.32" stop-color="#0878e0"/><stop offset="0.37" stop-color="#0888f0"/><stop offset="0.41" stop-color="#0890f0"/><stop offset="0.43" stop-color="#00b0a0"/><stop offset="0.44" stop-color="#00d060"/><stop offset="0.47" stop-color="#00d060"/><stop offset="0.5" stop-color="#c8f080"/><stop offset="0.54" stop-color="#c8f080"/><stop offset="0.56" stop-color="#b0f080"/><stop offset="0.58" stop-color="#40d870"/><stop offset="0.6" stop-color="#00d060"/><stop offset="0.64" stop-color="#00d060"/><stop offset="0.66" stop-color="#0890f0"/><stop offset="0.75" stop-color="#0890f0"/><stop offset="0.78" stop-color="#10b0a0"/><stop offset="0.86" stop-color="#10b0a0"/><stop offset="0.87" stop-color="#10a0c0"/><stop offset="0.9" stop-color="#0890f0"/><stop offset="0.92" stop-color="#1070d8"/><stop offset="0.95" stop-color="#1860c8"/><stop offset="0.98" stop-color="#2048b8"/><stop offset="1" stop-color="#2048b8"/></linearGradient><linearGradient id="hC" x1="0" y1="0" x2="0" y2="1"><stop offset="0" stop-color="#2a40a8"/><stop offset="0.08" stop-color="#2a40a8"/><stop offset="0.12" stop-color="#2050b8"/><stop offset="0.17" stop-color="#2050b8"/><stop offset="0.2" stop-color="#1860c8"/><stop offset="0.27" stop-color="#1070d8"/><stop offset="0.34" stop-color="#0880e8"/><stop offset="0.38" stop-color="#0890f0"/><stop offset="0.41" stop-color="#0890f0"/><stop offset="0.43" stop-color="#00b8a0"/><stop offset="0.45" stop-color="#00d060"/><stop offset="0.47" stop-color="#00d060"/><stop offset="0.5" stop-color="#e8f088"/><stop offset="0.52" stop-color="#f8f890"/><stop offset="0.56" stop-color="#f8f890"/><stop offset="0.58" stop-color="#90e080"/><stop offset="0.61" stop-color="#00d060"/><stop offset="0.64" stop-color="#00d060"/><stop offset="0.66" stop-color="#0890f0"/><stop offset="0.75" stop-color="#0890f0"/><stop offset="0.77" stop-color="#00c860"/><stop offset="0.87" stop-color="#00c860"/><stop offset="0.89" stop-color="#0890f0"/><stop offset="0.92" stop-color="#0890f0"/><stop offset="0.95" stop-color="#1860c8"/><stop offset="1" stop-color="#1860c8"/></linearGradient><linearGradient id="hD" x1="0" y1="0" x2="0" y2="1"><stop offset="0" stop-color="#1060d0"/><stop offset="0.04" stop-color="#1064d4"/><stop offset="0.08" stop-color="#0878e0"/><stop offset="0.17" stop-color="#0880e8"/><stop offset="0.23" stop-color="#0890f0"/><stop offset="0.29" stop-color="#0890f0"/><stop offset="0.31" stop-color="#00a8b0"/><stop offset="0.32" stop-color="#00d060"/><stop offset="0.43" stop-color="#00d060"/><stop offset="0.45" stop-color="#c0f088"/><stop offset="0.47" stop-color="#f0f090"/><stop offset="0.49" stop-color="#c8a068"/><stop offset="0.51" stop-color="#a07068"/><stop offset="0.54" stop-color="#a06860"/><stop offset="0.57" stop-color="#a07068"/><stop offset="0.58" stop-color="#c0a070"/><stop offset="0.6" stop-color="#f0f090"/><stop offset="0.61" stop-color="#f0f090"/><stop offset="0.63" stop-color="#a0e880"/><stop offset="0.65" stop-color="#00d060"/><stop offset="0.77" stop-color="#00d060"/><stop offset="0.79" stop-color="#60e080"/><stop offset="0.87" stop-color="#60e080"/><stop offset="0.89" stop-color="#00d060"/><stop offset="0.92" stop-color="#00d060"/><stop offset="0.95" stop-color="#0890f0"/><stop offset="1" stop-color="#0890f0"/></linearGradient><linearGradient id="hE" x1="0" y1="0" x2="0" y2="1"><stop offset="0" stop-color="#0890f0"/><stop offset="0.05" stop-color="#0890f0"/><stop offset="0.1" stop-color="#0898f0"/><stop offset="0.13" stop-color="#10b0b0"/><stop offset="0.15" stop-color="#00c880"/><stop offset="0.17" stop-color="#00d060"/><stop offset="0.32" stop-color="#00d060"/><stop offset="0.34" stop-color="#80e880"/><stop offset="0.38" stop-color="#a0f088"/><stop offset="0.4" stop-color="#f8f890"/><stop offset="0.42" stop-color="#f8f890"/><stop offset="0.44" stop-color="#c8a070"/><stop offset="0.47" stop-color="#a06050"/><stop offset="0.49" stop-color="#b08070"/><stop offset="0.51" stop-color="#d0b8b0"/><stop offset="0.54" stop-color="#dcc8c0"/><stop offset="0.57" stop-color="#d0b8b0"/><stop offset="0.58" stop-color="#b08070"/><stop offset="0.6" stop-color="#a06050"/><stop offset="0.61" stop-color="#d0b070"/><stop offset="0.63" stop-color="#f0f090"/><stop offset="0.66" stop-color="#f8f890"/><stop offset="0.68" stop-color="#a0e880"/><stop offset="0.7" stop-color="#80e080"/><stop offset="0.73" stop-color="#a0e880"/><stop offset="0.75" stop-color="#d0f080"/><stop offset="0.78" stop-color="#f8f890"/><stop offset="0.85" stop-color="#f8f890"/><stop offset="0.88" stop-color="#a0e880"/><stop offset="0.91" stop-color="#00d060"/><stop offset="0.94" stop-color="#20c080"/><stop offset="0.95" stop-color="#0890f0"/><stop offset="1" stop-color="#0890f0"/></linearGradient><linearGradient id="hF" x1="0" y1="0" x2="0" y2="1"><stop offset="0" stop-color="#0890f0"/><stop offset="0.03" stop-color="#0890f0"/><stop offset="0.07" stop-color="#0898f0"/><stop offset="0.09" stop-color="#10b0a0"/><stop offset="0.14" stop-color="#10b0a0"/><stop offset="0.16" stop-color="#00d060"/><stop offset="0.3" stop-color="#00d060"/><stop offset="0.35" stop-color="#80e880"/><stop offset="0.38" stop-color="#a8f088"/><stop offset="0.42" stop-color="#f0f090"/><stop offset="0.45" stop-color="#f0f090"/><stop offset="0.48" stop-color="#d0b070"/><stop offset="0.5" stop-color="#b08060"/><stop offset="0.52" stop-color="#a06050"/><stop offset="0.54" stop-color="#a06050"/><stop offset="0.57" stop-color="#a06050"/><stop offset="0.58" stop-color="#c0a060"/><stop offset="0.6" stop-color="#f0f090"/><stop offset="0.62" stop-color="#f0f090"/><stop offset="0.64" stop-color="#a0f080"/><stop offset="0.66" stop-color="#00d060"/><stop offset="0.74" stop-color="#00d060"/><stop offset="0.76" stop-color="#a0f080"/><stop offset="0.86" stop-color="#a0f080"/><stop offset="0.89" stop-color="#20d070"/><stop offset="0.91" stop-color="#20d070"/><stop offset="0.93" stop-color="#0890f0"/><stop offset="1" stop-color="#0890f0"/></linearGradient><linearGradient id="hG" x1="0" y1="0" x2="0" y2="1"><stop offset="0" stop-color="#0888f0"/><stop offset="0.06" stop-color="#0888f0"/><stop offset="0.09" stop-color="#0898f0"/><stop offset="0.13" stop-color="#00a8c8"/><stop offset="0.17" stop-color="#10b0a0"/><stop offset="0.19" stop-color="#10b0a0"/><stop offset="0.21" stop-color="#00d050"/><stop offset="0.47" stop-color="#00d050"/><stop offset="0.5" stop-color="#70e880"/><stop offset="0.54" stop-color="#70e880"/><stop offset="0.57" stop-color="#00d050"/><stop offset="0.6" stop-color="#00d050"/><stop offset="0.61" stop-color="#10c090"/><stop offset="0.64" stop-color="#10b0a0"/><stop offset="0.67" stop-color="#10b0a0"/><stop offset="0.69" stop-color="#00d050"/><stop offset="0.88" stop-color="#00d050"/><stop offset="0.9" stop-color="#0890f0"/><stop offset="0.94" stop-color="#0890f0"/><stop offset="0.97" stop-color="#0878e0"/><stop offset="1" stop-color="#1868d0"/></linearGradient><linearGradient id="hH" x1="0" y1="0" x2="0" y2="1"><stop offset="0" stop-color="#0860d0"/><stop offset="0.04" stop-color="#0860d0"/><stop offset="0.07" stop-color="#0868d8"/><stop offset="0.1" stop-color="#0878e0"/><stop offset="0.19" stop-color="#0878e0"/><stop offset="0.23" stop-color="#0880e8"/><stop offset="0.27" stop-color="#0888f0"/><stop offset="0.34" stop-color="#0888f0"/><stop offset="0.37" stop-color="#0890f0"/><stop offset="0.41" stop-color="#0890f0"/><stop offset="0.44" stop-color="#00a8c0"/><stop offset="0.47" stop-color="#00b8a0"/><stop offset="0.49" stop-color="#00c080"/><stop offset="0.5" stop-color="#00d050"/><stop offset="0.57" stop-color="#00d050"/><stop offset="0.59" stop-color="#0890f0"/><stop offset="0.63" stop-color="#0890f0"/><stop offset="0.65" stop-color="#0880e8"/><stop offset="0.71" stop-color="#0880e8"/><stop offset="0.74" stop-color="#0890f0"/><stop offset="0.82" stop-color="#0890f0"/><stop offset="0.84" stop-color="#00a0d0"/><stop offset="0.87" stop-color="#00a0d0"/><stop offset="0.9" stop-color="#0878e0"/><stop offset="0.94" stop-color="#0878e0"/><stop offset="0.96" stop-color="#1860c8"/><stop offset="1" stop-color="#1860c8"/></linearGradient><linearGradient id="hI" x1="0" y1="0" x2="0" y2="1"><stop offset="0" stop-color="#1e4cb8"/><stop offset="0.12" stop-color="#1e4cb8"/><stop offset="0.15" stop-color="#1858c8"/><stop offset="0.2" stop-color="#1858c8"/><stop offset="0.24" stop-color="#1068d0"/><stop offset="0.29" stop-color="#1068d0"/><stop offset="0.31" stop-color="#0870e0"/><stop offset="0.35" stop-color="#0878e0"/><stop offset="0.4" stop-color="#0878e0"/><stop offset="0.43" stop-color="#0888f0"/><stop offset="0.47" stop-color="#0890f0"/><stop offset="0.52" stop-color="#0890f0"/><stop offset="0.55" stop-color="#0880e8"/><stop offset="0.57" stop-color="#0880e8"/><stop offset="0.6" stop-color="#0868d8"/><stop offset="0.65" stop-color="#0868d8"/><stop offset="0.67" stop-color="#1060d0"/><stop offset="0.77" stop-color="#1060d0"/><stop offset="0.8" stop-color="#0870e0"/><stop offset="0.87" stop-color="#0870e0"/><stop offset="0.9" stop-color="#1060d0"/><stop offset="0.94" stop-color="#1060d0"/><stop offset="0.97" stop-color="#1850c0"/><stop offset="1" stop-color="#1850c0"/></linearGradient><linearGradient id="hJ" x1="0" y1="0" x2="0" y2="1"><stop offset="0" stop-color="#2a3ca8"/><stop offset="0.13" stop-color="#2a3ca8"/><stop offset="0.15" stop-color="#2048b8"/><stop offset="0.23" stop-color="#2048b8"/><stop offset="0.25" stop-color="#1858c0"/><stop offset="0.37" stop-color="#1858c0"/><stop offset="0.4" stop-color="#1060d0"/><stop offset="0.46" stop-color="#1060d0"/><stop offset="0.48" stop-color="#0878e0"/><stop offset="0.51" stop-color="#0878e0"/><stop offset="0.54" stop-color="#1068d8"/><stop offset="0.58" stop-color="#1068d8"/><stop offset="0.61" stop-color="#1858c0"/><stop offset="0.77" stop-color="#1858c0"/><stop offset="0.8" stop-color="#1060d0"/><stop offset="0.87" stop-color="#1060d0"/><stop offset="0.9" stop-color="#2050b8"/><stop offset="0.94" stop-color="#2050b8"/><stop offset="0.96" stop-color="#2840a8"/><stop offset="1" stop-color="#2840a8"/></linearGradient><linearGradient id="hK" x1="0" y1="0" x2="0" y2="1"><stop offset="0" stop-color="#3034a4"/><stop offset="0.03" stop-color="#2a3ca8"/><stop offset="0.06" stop-color="#2a3ca8"/><stop offset="0.08" stop-color="#3030a0"/><stop offset="0.12" stop-color="#3030a0"/><stop offset="0.14" stop-color="#2a40a8"/><stop offset="0.24" stop-color="#2a40a8"/><stop offset="0.26" stop-color="#2048b8"/><stop offset="0.41" stop-color="#2048b8"/><stop offset="0.43" stop-color="#1858c0"/><stop offset="0.47" stop-color="#1068d0"/><stop offset="0.51" stop-color="#1068d0"/><stop offset="0.54" stop-color="#1860c8"/><stop offset="0.59" stop-color="#1860c8"/><stop offset="0.61" stop-color="#2a40a8"/><stop offset="0.74" stop-color="#2a40a8"/><stop offset="0.77" stop-color="#2048b8"/><stop offset="0.87" stop-color="#2048b8"/><stop offset="0.9" stop-color="#2840b0"/><stop offset="0.94" stop-color="#2840b0"/><stop offset="0.96" stop-color="#3030a0"/><stop offset="1" stop-color="#3030a0"/></linearGradient><linearGradient id="hL" x1="0" y1="0" x2="0" y2="1"><stop offset="0" stop-color="#3830a0"/><stop offset="0.19" stop-color="#3830a0"/><stop offset="0.21" stop-color="#2a40a8"/><stop offset="0.38" stop-color="#2a40a8"/><stop offset="0.4" stop-color="#2048b8"/><stop offset="0.47" stop-color="#1860c8"/><stop offset="0.59" stop-color="#1860c8"/><stop offset="0.61" stop-color="#2048b8"/><stop offset="0.75" stop-color="#2048b8"/><stop offset="0.77" stop-color="#1858c0"/><stop offset="0.87" stop-color="#1858c0"/><stop offset="0.9" stop-color="#2840a8"/><stop offset="1" stop-color="#2840a8"/></linearGradient><linearGradient id="cbar" x1="0" y1="0" x2="0" y2="1"><stop offset="0" stop-color="#fafafa"/><stop offset="0.05" stop-color="#f0e8e8"/><stop offset="0.13" stop-color="#dccac6"/><stop offset="0.22" stop-color="#c0a098"/><stop offset="0.32" stop-color="#a07466"/><stop offset="0.38" stop-color="#8a5444"/><stop offset="0.43" stop-color="#8c5a46"/><stop offset="0.49" stop-color="#b89050"/><stop offset="0.55" stop-color="#e0c868"/><stop offset="0.6" stop-color="#fafa96"/><stop offset="0.64" stop-color="#e8f490"/><stop offset="0.7" stop-color="#a0f080"/><stop offset="0.74" stop-color="#40d870"/><stop offset="0.79" stop-color="#00cc60"/><stop offset="0.83" stop-color="#00c870"/><stop offset="0.87" stop-color="#0098f0"/><stop offset="0.91" stop-color="#0088f0"/><stop offset="0.96" stop-color="#2050c0"/><stop offset="1" stop-color="#303aa0"/></linearGradient></defs>
<rect x="372" y="2.7" width="12.6" height="165" fill="url(#hA)"/><rect x="383.6" y="2.7" width="23.6" height="165" fill="url(#hB)"/><rect x="406.2" y="2.7" width="23.7" height="165" fill="url(#hC)"/><rect x="428.9" y="2.7" width="23.5" height="165" fill="url(#hD)"/><rect x="451.4" y="2.7" width="23.6" height="165" fill="url(#hE)"/><rect x="474" y="2.7" width="23.3" height="165" fill="url(#hF)"/><rect x="496.3" y="2.7" width="23.7" height="165" fill="url(#hG)"/><rect x="519" y="2.7" width="23.5" height="165" fill="url(#hH)"/><rect x="541.5" y="2.7" width="23.3" height="165" fill="url(#hI)"/><rect x="563.8" y="2.7" width="23.4" height="165" fill="url(#hJ)"/><rect x="586.2" y="2.7" width="23.6" height="165" fill="url(#hK)"/><rect x="608.8" y="2.7" width="11.4" height="165" fill="url(#hL)"/>
<line x1="372" y1="147" x2="620.2" y2="147" stroke="#fff" stroke-width="2.2" stroke-dasharray="4.2,2.6"/>
<rect x="371" y="1.3" width="250.5" height="167.5" fill="none" stroke="#444" stroke-width="1"/>
<path d="M371,167.65h-4.5M371,163.52h-3M371,159.39h-3M371,155.26h-3M371,151.13h-3M371,147h-6.2M371,142.87h-3M371,138.74h-3M371,134.61h-3M371,130.48h-3M371,126.35h-4.5M371,122.22h-3M371,118.09h-3M371,113.96h-3M371,109.83h-3M371,105.7h-6.2M371,101.57h-3M371,97.44h-3M371,93.31h-3M371,89.18h-3M371,85.05h-4.5M371,80.92h-3M371,76.79h-3M371,72.66h-3M371,68.53h-3M371,64.4h-6.2M371,60.27h-3M371,56.14h-3M371,52.01h-3M371,47.88h-3M371,43.75h-4.5M371,39.62h-3M371,35.49h-3M371,31.36h-3M371,27.23h-3M371,23.1h-6.2M371,18.97h-3M371,14.84h-3M371,10.71h-3M371,6.58h-3M371,2.45h-4.5M372.56,168.8v2.8M383.8,168.8v4.8M395.04,168.8v2.8M406.28,168.8v2.8M417.52,168.8v2.8M428.76,168.8v2.8M440,168.8v6.7M451.24,168.8v2.8M462.48,168.8v2.8M473.72,168.8v2.8M484.96,168.8v2.8M496.2,168.8v4.8M507.44,168.8v2.8M518.68,168.8v2.8M529.92,168.8v2.8M541.16,168.8v2.8M552.4,168.8v6.7M563.64,168.8v2.8M574.88,168.8v2.8M586.12,168.8v2.8M597.36,168.8v2.8M608.6,168.8v4.8M619.84,168.8v2.8" stroke="#333" stroke-width="1" fill="none"/>
<text x="361.8" y="153.2" font-size="20.2" text-anchor="end" font-weight="normal" fill="#000" >0.0</text>
<text x="361.8" y="111.9" font-size="20.2" text-anchor="end" font-weight="normal" fill="#000" >0.2</text>
<text x="361.8" y="70.6" font-size="20.2" text-anchor="end" font-weight="normal" fill="#000" >0.4</text>
<text x="361.8" y="29.3" font-size="20.2" text-anchor="end" font-weight="normal" fill="#000" >0.6</text>
<text x="438.6" y="194.3" font-size="20" text-anchor="middle" font-weight="normal" fill="#000" >931</text>
<text x="551" y="194.3" font-size="20" text-anchor="middle" font-weight="normal" fill="#000" >932</text>
<text x="496.5" y="212.5" font-size="19.3" text-anchor="middle" font-weight="normal" fill="#000" >Energy (eV)</text>
<text transform="translate(327.5,81.7) rotate(-90)" font-size="19.4" text-anchor="middle">Energy loss (eV)</text>
<text x="387.2" y="27.8" font-size="19" text-anchor="start" font-weight="bold" fill="#fff" class="w">b</text>
<rect x="627.5" y="61" width="11.6" height="107.5" fill="url(#cbar)" stroke="#333" stroke-width="0.9"/>
<path d="M639.1,168.5h7M639.1,163.12h4.3M639.1,157.75h4.3M639.1,152.38h4.3M639.1,147h7M639.1,141.62h4.3M639.1,136.25h4.3M639.1,130.88h4.3M639.1,125.5h7M639.1,120.12h4.3M639.1,114.75h4.3M639.1,109.38h4.3M639.1,104h7M639.1,98.62h4.3M639.1,93.25h4.3M639.1,87.88h4.3M639.1,82.5h7M639.1,77.12h4.3M639.1,71.75h4.3M639.1,66.38h4.3M639.1,61h7" stroke="#222" stroke-width="1" fill="none"/>
<text x="650.3" y="174.8" font-size="17.2" text-anchor="start" font-weight="normal" fill="#000" >0.0</text>
<text x="650.3" y="153.3" font-size="17.2" text-anchor="start" font-weight="normal" fill="#000" >0.2</text>
<text x="650.3" y="131.8" font-size="17.2" text-anchor="start" font-weight="normal" fill="#000" >0.4</text>
<text x="650.3" y="110.3" font-size="17.2" text-anchor="start" font-weight="normal" fill="#000" >0.6</text>
<text x="650.3" y="88.8" font-size="17.2" text-anchor="start" font-weight="normal" fill="#000" >0.8</text>
<text x="650.3" y="67.3" font-size="17.2" text-anchor="start" font-weight="normal" fill="#000" >1.0</text>
<rect x="421.52" y="320.1" width="8.2" height="8.2" fill="#000"/><rect x="422.92" y="321.5" width="5.4" height="5.4" fill="#1010ff"/><rect x="434.83" y="315.4" width="8.2" height="8.2" fill="#000"/><rect x="436.23" y="316.8" width="5.4" height="5.4" fill="#1010ff"/><rect x="448.14" y="299.6" width="8.2" height="8.2" fill="#000"/><rect x="449.54" y="301" width="5.4" height="5.4" fill="#1010ff"/><rect x="461.45" y="267.9" width="8.2" height="8.2" fill="#000"/><rect x="462.85" y="269.3" width="5.4" height="5.4" fill="#1010ff"/><rect x="474.76" y="246.3" width="8.2" height="8.2" fill="#000"/><rect x="476.16" y="247.7" width="5.4" height="5.4" fill="#1010ff"/><rect x="488.07" y="298.6" width="8.2" height="8.2" fill="#000"/><rect x="489.47" y="300" width="5.4" height="5.4" fill="#1010ff"/><rect x="501.38" y="345.9" width="8.2" height="8.2" fill="#000"/><rect x="502.78" y="347.3" width="5.4" height="5.4" fill="#1010ff"/><rect x="514.69" y="356.9" width="8.2" height="8.2" fill="#000"/><rect x="516.09" y="358.3" width="5.4" height="5.4" fill="#1010ff"/><rect x="528" y="361.1" width="8.2" height="8.2" fill="#000"/><rect x="529.4" y="362.5" width="5.4" height="5.4" fill="#1010ff"/><rect x="541.31" y="363" width="8.2" height="8.2" fill="#000"/><rect x="542.71" y="364.4" width="5.4" height="5.4" fill="#1010ff"/><rect x="554.62" y="365.3" width="8.2" height="8.2" fill="#000"/><rect x="556.02" y="366.7" width="5.4" height="5.4" fill="#1010ff"/><rect x="567.93" y="366.2" width="8.2" height="8.2" fill="#000"/><rect x="569.33" y="367.6" width="5.4" height="5.4" fill="#1010ff"/><rect x="421.52" y="367.8" width="8.2" height="8.2" fill="#000"/><rect x="422.92" y="369.2" width="5.4" height="5.4" fill="#ff1010"/><rect x="434.83" y="366.5" width="8.2" height="8.2" fill="#000"/><rect x="436.23" y="367.9" width="5.4" height="5.4" fill="#ff1010"/><rect x="448.14" y="365.7" width="8.2" height="8.2" fill="#000"/><rect x="449.54" y="367.1" width="5.4" height="5.4" fill="#ff1010"/><rect x="461.45" y="358.8" width="8.2" height="8.2" fill="#000"/><rect x="462.85" y="360.2" width="5.4" height="5.4" fill="#ff1010"/><rect x="474.76" y="343.3" width="8.2" height="8.2" fill="#000"/><rect x="476.16" y="344.7" width="5.4" height="5.4" fill="#ff1010"/><rect x="488.07" y="335.4" width="8.2" height="8.2" fill="#000"/><rect x="489.47" y="336.8" width="5.4" height="5.4" fill="#ff1010"/><rect x="501.38" y="342.6" width="8.2" height="8.2" fill="#000"/><rect x="502.78" y="344" width="5.4" height="5.4" fill="#ff1010"/><rect x="514.69" y="358.4" width="8.2" height="8.2" fill="#000"/><rect x="516.09" y="359.8" width="5.4" height="5.4" fill="#ff1010"/><rect x="528" y="364.7" width="8.2" height="8.2" fill="#000"/><rect x="529.4" y="366.1" width="5.4" height="5.4" fill="#ff1010"/><rect x="541.31" y="367.7" width="8.2" height="8.2" fill="#000"/><rect x="542.71" y="369.1" width="5.4" height="5.4" fill="#ff1010"/><rect x="554.62" y="369.3" width="8.2" height="8.2" fill="#000"/><rect x="556.02" y="370.7" width="5.4" height="5.4" fill="#ff1010"/><rect x="567.93" y="370.1" width="8.2" height="8.2" fill="#000"/><rect x="569.33" y="371.5" width="5.4" height="5.4" fill="#ff1010"/>
<path d="M372.6,376.1C376.37,375.9 388.97,375.32 395.2,374.9C401.43,374.48 404.93,374.1 410,373.6C415.07,373.1 420.7,372.42 425.6,371.9C430.5,371.38 435.83,370.85 439.4,370.5C442.97,370.15 444.7,370.13 447,369.8C449.3,369.47 451.2,369.05 453.2,368.5C455.2,367.95 456.92,367.5 459,366.5C461.08,365.5 463.87,363.92 465.7,362.5C467.53,361.08 468.53,359.67 470,358C471.47,356.33 472.95,354.3 474.5,352.5C476.05,350.7 477.55,348.95 479.3,347.2C481.05,345.45 483.38,343.28 485,342C486.62,340.72 487.8,340.03 489,339.5C490.2,338.97 491.12,338.75 492.2,338.8C493.28,338.85 494.13,338.93 495.5,339.8C496.87,340.67 498.82,342.38 500.4,344C501.98,345.62 503.45,347.75 505,349.5C506.55,351.25 508.12,352.95 509.7,354.5C511.28,356.05 512.95,357.57 514.5,358.8C516.05,360.03 517.25,360.87 519,361.9C520.75,362.93 522.85,364.03 525,365C527.15,365.97 529.73,366.92 531.9,367.7C534.07,368.48 535.87,369.12 538,369.7C540.13,370.28 542.45,370.72 544.7,371.2C546.95,371.68 549.15,372.2 551.5,372.6C553.85,373 555.25,373.25 558.8,373.6C562.35,373.95 568.13,374.43 572.8,374.7C577.47,374.97 580.18,375 586.8,375.2C593.42,375.4 608.22,375.78 612.5,375.9" fill="none" stroke="#f02020" stroke-width="1.1"/>
<path d="M372.6,372.5C374.67,372.22 381.23,371.5 385,370.8C388.77,370.1 392.03,369.13 395.2,368.3C398.37,367.47 401.23,366.77 404,365.8C406.77,364.83 409.3,363.72 411.8,362.5C414.3,361.28 416.7,360.07 419,358.5C421.3,356.93 423.6,354.93 425.6,353.1C427.6,351.27 429.38,349.33 431,347.5C432.62,345.67 433.88,344.27 435.3,342.1C436.72,339.93 438.22,337.02 439.5,334.5C440.78,331.98 441.83,329.58 443,327C444.17,324.42 445.38,321.58 446.5,319C447.62,316.42 448.65,314.05 449.7,311.5C450.75,308.95 451.78,306.28 452.8,303.7C453.82,301.12 454.85,298.57 455.8,296C456.75,293.43 457.52,291.05 458.5,288.3C459.48,285.55 460.58,282.52 461.7,279.5C462.82,276.48 464.07,273.45 465.2,270.2C466.33,266.95 467.53,262.95 468.5,260C469.47,257.05 470.17,254 471,252.5C471.83,251 472.67,250.75 473.5,251C474.33,251.25 475.12,252.25 476,254C476.88,255.75 477.8,258.58 478.8,261.5C479.8,264.42 480.87,267.78 482,271.5C483.13,275.22 484.43,280.13 485.6,283.8C486.77,287.47 487.87,290.42 489,293.5C490.13,296.58 491.4,299.38 492.4,302.3C493.4,305.22 494.07,307.88 495,311C495.93,314.12 496.92,317.83 498,321C499.08,324.17 500.33,327.33 501.5,330C502.67,332.67 503.83,335.17 505,337C506.17,338.83 507.33,339.63 508.5,341C509.67,342.37 510.67,343.65 512,345.2C513.33,346.75 514.93,348.75 516.5,350.3C518.07,351.85 519.73,353.15 521.4,354.5C523.07,355.85 524.75,357.17 526.5,358.4C528.25,359.63 529.98,360.82 531.9,361.9C533.82,362.98 535.87,363.93 538,364.9C540.13,365.87 542.45,366.92 544.7,367.7C546.95,368.48 549.15,369.02 551.5,369.6C553.85,370.18 556.47,370.7 558.8,371.2C561.13,371.7 563.17,372.2 565.5,372.6C567.83,373 569.25,373.25 572.8,373.6C576.35,373.95 582.13,374.43 586.8,374.7C591.47,374.97 596.6,375.07 600.8,375.2C605,375.33 610.13,375.45 612,375.5" fill="none" stroke="#1a3cff" stroke-width="1.15"/>
<path d="M372.6,375.8C374.67,375.47 381.23,374.58 385,373.8C388.77,373.02 392.28,372.02 395.2,371.1C398.12,370.18 400.2,369.45 402.5,368.3C404.8,367.15 407,365.7 409,364.2C411,362.7 412.65,361.15 414.5,359.3C416.35,357.45 418.43,355.07 420.1,353.1C421.77,351.13 423.12,349.43 424.5,347.5C425.88,345.57 427.15,343.58 428.4,341.5C429.65,339.42 430.85,337.25 432,335C433.15,332.75 434.28,330.83 435.3,328C436.32,325.17 437.25,321.5 438.1,318C438.95,314.5 439.58,310.67 440.4,307C441.22,303.33 442.07,299.75 443,296C443.93,292.25 444.92,288.25 446,284.5C447.08,280.75 448.42,276.92 449.5,273.5C450.58,270.08 451.5,267 452.5,264C453.5,261 454.5,258 455.5,255.5C456.5,253 457.45,250.53 458.5,249C459.55,247.47 460.68,246.87 461.8,246.3C462.92,245.73 464.2,245.52 465.2,245.6C466.2,245.68 466.95,246.02 467.8,246.8C468.65,247.58 469.43,248.85 470.3,250.3C471.17,251.75 472.13,253.47 473,255.5C473.87,257.53 474.7,260 475.5,262.5C476.3,265 476.97,267.75 477.8,270.5C478.63,273.25 479.5,276.08 480.5,279C481.5,281.92 482.63,285 483.8,288C484.97,291 486.22,294.08 487.5,297C488.78,299.92 490.33,302.92 491.5,305.5C492.67,308.08 493.58,309.83 494.5,312.5C495.42,315.17 496,318.42 497,321.5C498,324.58 499.5,328.5 500.5,331C501.5,333.5 502.17,334.95 503,336.5C503.83,338.05 504.58,338.92 505.5,340.3C506.42,341.68 507.58,343.47 508.5,344.8C509.42,346.13 510.22,347.27 511,348.3C511.78,349.33 512.43,350.15 513.2,351C513.97,351.85 514.8,352.68 515.6,353.4C516.4,354.12 517.02,354.5 518,355.3C518.98,356.1 520.25,357.22 521.5,358.2C522.75,359.18 523.92,360.18 525.5,361.2C527.08,362.22 529,363.3 531,364.3C533,365.3 534.5,366.13 537.5,367.2C540.5,368.27 545.45,369.83 549,370.7C552.55,371.57 554.45,371.8 558.8,372.4C563.15,373 568.1,373.8 575.1,374.3C582.1,374.8 594.65,375.18 600.8,375.4C606.95,375.62 610.13,375.57 612,375.6" fill="none" stroke="#111" stroke-width="1.5" stroke-dasharray="1.4,1.5"/>
<rect x="366.8" y="231.2" width="250.4" height="167" fill="none" stroke="#444" stroke-width="1"/>
<path d="M372.38,231.2v3.2M372.38,398.2v-3.2M379.04,231.2v3.2M379.04,398.2v-3.2M385.69,231.2v3.2M385.69,398.2v-3.2M392.34,231.2v3.2M392.34,398.2v-3.2M399,231.2v6.5M399,398.2v-6.5M405.66,231.2v3.2M405.66,398.2v-3.2M412.31,231.2v3.2M412.31,398.2v-3.2M418.96,231.2v3.2M418.96,398.2v-3.2M425.62,231.2v3.2M425.62,398.2v-3.2M432.27,231.2v3.2M432.27,398.2v-3.2M438.93,231.2v3.2M438.93,398.2v-3.2M445.59,231.2v3.2M445.59,398.2v-3.2M452.24,231.2v3.2M452.24,398.2v-3.2M458.89,231.2v3.2M458.89,398.2v-3.2M465.55,231.2v6.5M465.55,398.2v-6.5M472.21,231.2v3.2M472.21,398.2v-3.2M478.86,231.2v3.2M478.86,398.2v-3.2M485.51,231.2v3.2M485.51,398.2v-3.2M492.17,231.2v3.2M492.17,398.2v-3.2M498.82,231.2v3.2M498.82,398.2v-3.2M505.48,231.2v3.2M505.48,398.2v-3.2M512.14,231.2v3.2M512.14,398.2v-3.2M518.79,231.2v3.2M518.79,398.2v-3.2M525.44,231.2v3.2M525.44,398.2v-3.2M532.1,231.2v6.5M532.1,398.2v-6.5M538.76,231.2v3.2M538.76,398.2v-3.2M545.41,231.2v3.2M545.41,398.2v-3.2M552.06,231.2v3.2M552.06,398.2v-3.2M558.72,231.2v3.2M558.72,398.2v-3.2M565.38,231.2v3.2M565.38,398.2v-3.2M572.03,231.2v3.2M572.03,398.2v-3.2M578.69,231.2v3.2M578.69,398.2v-3.2M585.34,231.2v3.2M585.34,398.2v-3.2M591.99,231.2v3.2M591.99,398.2v-3.2M598.65,231.2v6.5M598.65,398.2v-6.5M605.31,231.2v3.2M605.31,398.2v-3.2M611.96,231.2v3.2M611.96,398.2v-3.2M366.8,358.3h6.4M366.8,316.05h6.4M366.8,273.8h6.4M617.2,376h-6M617.2,349.18h-6M617.2,322.36h-6M617.2,295.54h-6M617.2,268.72h-6M617.2,241.9h-6" stroke="#333" stroke-width="1" fill="none"/>
<text x="364.6" y="363.7" font-size="19.8" text-anchor="end" font-weight="normal" fill="#000" >1.5</text>
<text x="364.6" y="321.45" font-size="19.8" text-anchor="end" font-weight="normal" fill="#000" >2.0</text>
<text x="364.6" y="279.2" font-size="19.8" text-anchor="end" font-weight="normal" fill="#000" >2.5</text>
<text x="626.2" y="382.3" font-size="20" text-anchor="start" font-weight="normal" fill="#000" >0.0</text>
<text x="626.2" y="355.48" font-size="20" text-anchor="start" font-weight="normal" fill="#000" >0.5</text>
<text x="626.2" y="328.66" font-size="20" text-anchor="start" font-weight="normal" fill="#000" >1.0</text>
<text x="626.2" y="301.84" font-size="20" text-anchor="start" font-weight="normal" fill="#000" >1.5</text>
<text x="626.2" y="275.02" font-size="20" text-anchor="start" font-weight="normal" fill="#000" >2.0</text>
<text x="626.2" y="248.2" font-size="20" text-anchor="start" font-weight="normal" fill="#000" >2.5</text>
<text x="398.7" y="416.9" font-size="19.7" text-anchor="middle" font-weight="normal" fill="#000" >930</text>
<text x="465.25" y="416.9" font-size="19.7" text-anchor="middle" font-weight="normal" fill="#000" >931</text>
<text x="531.8" y="416.9" font-size="19.7" text-anchor="middle" font-weight="normal" fill="#000" >932</text>
<text x="598.35" y="416.9" font-size="19.7" text-anchor="middle" font-weight="normal" fill="#000" >933</text>
<text x="493" y="437.6" font-size="18.2" text-anchor="middle" font-weight="normal" fill="#000" >Energy (eV)</text>
<text transform="translate(325.8,313.5) rotate(-90)" font-size="18" text-anchor="middle">Intensity (arb. units)</text>
<text transform="translate(669.5,316.5) rotate(90)" font-size="18" text-anchor="middle">Peak height (arb.units)</text>
<text x="378.9" y="248.2" font-size="17.3" text-anchor="start" font-weight="bold" fill="#000" >c</text>
<line x1="372.8" y1="283.8" x2="397.7" y2="283.8" stroke="#111" stroke-width="1.7" stroke-dasharray="1.6,1.6"/>
<text x="404.3" y="288.5" font-size="16.2" text-anchor="start" font-weight="normal" fill="#000" >XAS</text>
<rect x="530.3" y="258.8" width="6.8" height="6.8" fill="#1010ff" stroke="#000" stroke-width="1.3"/>
<rect x="530.3" y="273.6" width="6.8" height="6.8" fill="#ff1010" stroke="#000" stroke-width="1.3"/>
<text x="549.3" y="264.8" font-size="14.6" text-anchor="start" font-weight="normal" fill="#000" >magnon</text>
<text x="549.3" y="280" font-size="14.6" text-anchor="start" font-weight="normal" fill="#000" >bimagnon</text>
</svg>
</body></html>
